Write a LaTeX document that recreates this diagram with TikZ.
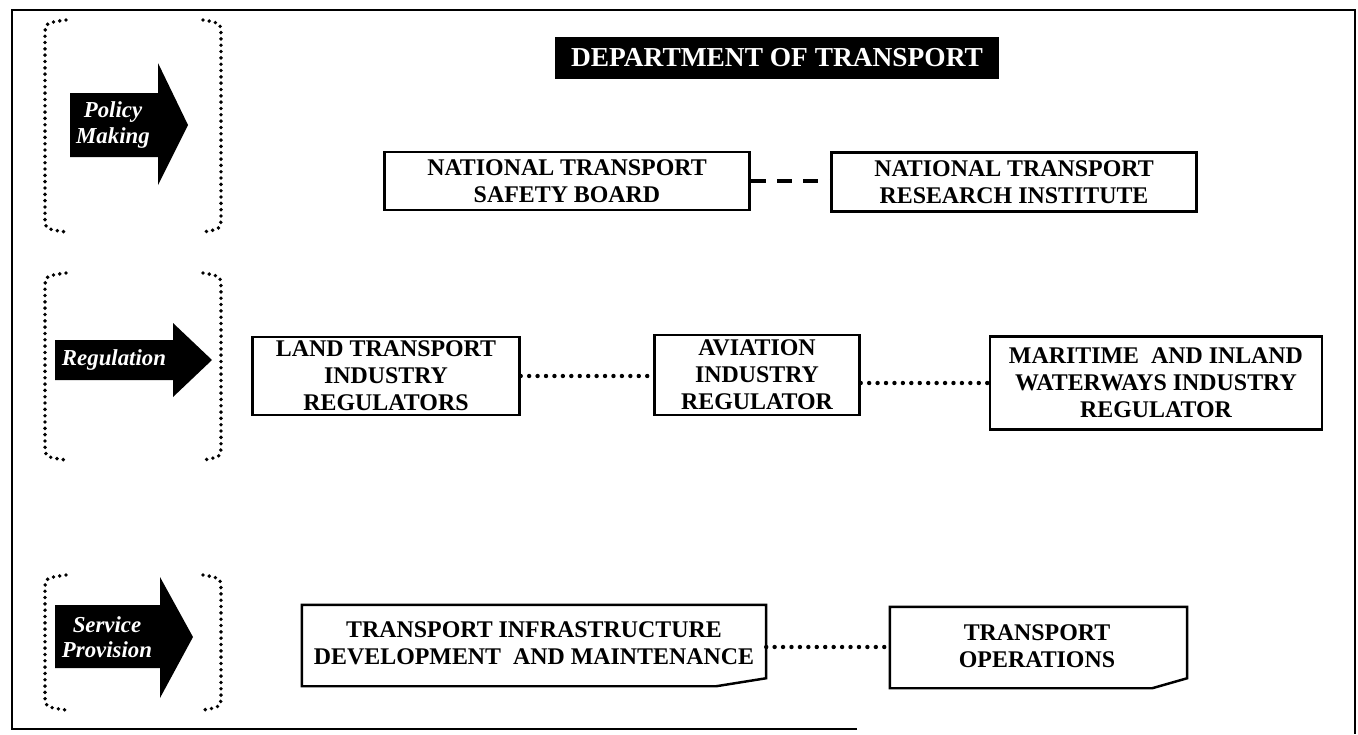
\documentclass[tikz,border=0pt]{standalone}
\usepackage{fontspec}
\setmainfont{Liberation Serif}
\usetikzlibrary{positioning}

\tikzset{
  unitbox/.style={draw, line width=1.4pt, inner sep=0pt, align=center,
    font=\fontsize{13.6}{15.4}\selectfont\bfseries},
  cutbox/.style={unitbox, draw=none},
  boxtext/.style={align=center, inner sep=0pt, font=\fontsize{13.6}{15.6}\selectfont\bfseries},
  dotline/.style={line width=2.5pt, line cap=round, dash pattern=on 0pt off 4.8pt},
  dashline/.style={line width=2.2pt, dash pattern=on 8.5pt off 6.5pt},
  bracketline/.style={line width=2.2pt, line cap=round, dash pattern=on 0pt off 3.6pt},
  arrowlabel/.style={text=white, align=center, inner sep=0pt,
    font=\fontsize{13}{14.5}\selectfont\bfseries\itshape},
}

\begin{document}
\begin{tikzpicture}[x=0.02cm, y=-0.02cm]
	\useasboundingbox (0,0) rectangle (1358,734);
	% outer frame
	\draw[line width=1.4pt] (857,729) -- (12,729) -- (12,10) -- (1355,10) -- (1355,734);

	% title
	\node[fill=black, text=white, minimum width=8.9cm, minimum height=0.86cm,
	  font=\fontsize{15.6}{17}\selectfont\bfseries] (dot) at (777,58) {DEPARTMENT OF TRANSPORT};

	% dotted brackets
	\foreach \ya/\yb in {20/232, 273/460, 575/710}{
		\draw[bracketline] (66,\ya) .. controls (45,\ya+3) .. (45,\ya+16) -- (45,\yb-16) .. controls (45,\yb-3) .. (66,\yb);
		\draw[bracketline] (203,\ya) .. controls (221,\ya+3) .. (221,\ya+16) -- (221,\yb-16) .. controls (221,\yb-3) .. (203,\yb);
	}

	% level arrows
	\fill (70,93) -- (158,93) -- (158,63) -- (188,125) -- (158,185) -- (158,157) -- (70,157) -- cycle;
	\node[arrowlabel] (policy) at (113,125) {Policy\\Making};
	\fill (55,340) -- (173,340) -- (173,323) -- (212,360) -- (173,397) -- (173,380) -- (55,380) -- cycle;
	\node[arrowlabel] (regulation) at (114,360) {Regulation};
	\fill (55,605) -- (160,605) -- (160,577) -- (193,637) -- (160,698) -- (160,668) -- (55,668) -- cycle;
	\node[arrowlabel] (service) at (107,637) {Service\\Provision};

	% policy making
	\node[unitbox, minimum width=7.3cm, minimum height=1.16cm] (ntsb) at (567,181) {NATIONAL TRANSPORT\\SAFETY BOARD};
	\node[unitbox, minimum width=7.3cm, minimum height=1.18cm] (ntri) at (1014,182) {NATIONAL TRANSPORT\\RESEARCH INSTITUTE};
	\draw[dashline] (ntsb.east) -- (ntsb.east -| ntri.west);

	% regulation
	\node[unitbox, minimum width=5.34cm, minimum height=1.56cm] (land) at (386,376) {LAND TRANSPORT\\INDUSTRY\\REGULATORS};
	\node[unitbox, minimum width=4.1cm, minimum height=1.6cm] (aviation) at (757,375) {AVIATION\\INDUSTRY\\REGULATOR};
	\node[unitbox, minimum width=6.64cm, minimum height=1.86cm] (maritime) at (1156,383) {MARITIME\ \ AND INLAND\\WATERWAYS INDUSTRY\\REGULATOR};
	\draw[dotline] (land.east) -- (land.east -| aviation.west);
	\draw[dotline] (maritime.west -| aviation.east) -- (maritime.west);

	% service provision
	\node[cutbox, minimum width=9.24cm, minimum height=1.58cm] (tidm) at (534,645.5) {};
	\draw[line width=1.4pt] (tidm.north west) -- (tidm.north east) -- ([yshift=0.16cm]tidm.south east)
	  -- ([xshift=-1cm]tidm.south east) -- (tidm.south west) -- cycle;
	\node[boxtext] (tidmtext) at (534,643) {TRANSPORT INFRASTRUCTURE\\DEVELOPMENT\ \ AND MAINTENANCE};
	\node[cutbox, minimum width=5.9cm, minimum height=1.58cm] (tops) at (1038.5,647.5) {};
	\draw[line width=1.4pt] (tops.north west) -- (tops.north east) -- ([yshift=0.2cm]tops.south east)
	  -- ([xshift=-0.7cm]tops.south east) -- (tops.south west) -- cycle;
	\node[boxtext] (topstext) at (1037,646) {TRANSPORT\\OPERATIONS};
	\draw[dotline] ([yshift=-0.03cm]tidm.east) -- ([yshift=-0.03cm]tidm.east -| tops.west);
\end{tikzpicture}
\end{document}
